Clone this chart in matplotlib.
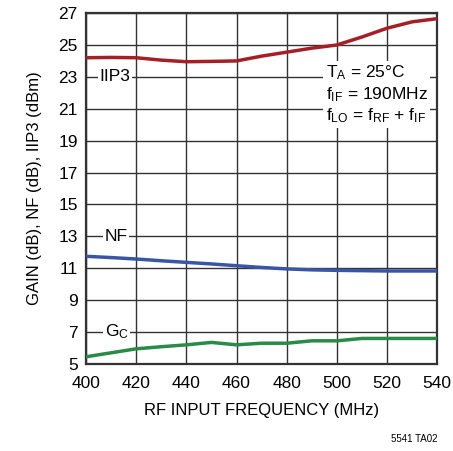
import matplotlib
matplotlib.use("Agg")
import matplotlib.pyplot as plt

# data
freq = [400, 410, 420, 430, 440, 450, 460, 470, 480, 490, 500, 510, 520, 530, 540]
iip3 = [24.2, 24.22, 24.2, 24.05, 23.95, 23.97, 24.0, 24.3, 24.55, 24.8, 25.0, 25.5, 26.05, 26.45, 26.65]
nf = [11.75, 11.67, 11.58, 11.47, 11.37, 11.27, 11.16, 11.05, 10.96, 10.9, 10.87, 10.85, 10.83, 10.83, 10.83]
gc = [5.45, 5.7, 5.95, 6.08, 6.2, 6.35, 6.2, 6.3, 6.3, 6.45, 6.45, 6.6, 6.6, 6.6, 6.6]
xticks = [400, 420, 440, 460, 480, 500, 520, 540]
yticks = [5, 7, 9, 11, 13, 15, 17, 19, 21, 23, 25, 27]

fam = "Liberation Sans"
plt.rcParams['font.family'] = [fam, 'DejaVu Sans']
plt.rcParams['mathtext.fontset'] = 'custom'
plt.rcParams['mathtext.rm'] = fam
plt.rcParams['mathtext.it'] = fam

fig = plt.figure(figsize=(4.53, 4.51), dpi=100)
ax = fig.add_axes([0.19, 0.193, 0.775, 0.778])

ax.plot(freq, iip3, color="#a51f26", lw=2.5, zorder=3)
ax.plot(freq, nf, color="#3a55a6", lw=2.5, zorder=3)
ax.plot(freq, gc, color="#2a8a48", lw=2.5, zorder=3)

ax.set_xlim(400, 540)
ax.set_ylim(5, 27)
ax.set_xticks(xticks)
ax.set_yticks(yticks)
ax.grid(True, color="#333333", lw=1.0)
ax.tick_params(length=0, labelsize=12.5)
ax.tick_params(axis="x", pad=9)
ax.tick_params(axis="y", pad=6)
for s in ax.spines.values():
    s.set_linewidth(1.6)
    s.set_color("#333333")

box = dict(facecolor="white", edgecolor="none", pad=1)
ax.text(405.5, 23, "IIP3", fontsize=12.5, va="center", ha="left", bbox=box, zorder=4)
ax.text(407.5, 13, "NF", fontsize=12.5, va="center", ha="left", bbox=box, zorder=4)
ax.text(407.5, 7, r"G$_\mathregular{C}$", fontsize=12.5, va="center", ha="left", bbox=box, zorder=4)
ax.text(495.5, 21.9,
        "T$_\\mathregular{A}$ = 25°C\nf$_\\mathregular{IF}$ = 190MHz\nf$_\\mathregular{LO}$ = f$_\\mathregular{RF}$ + f$_\\mathregular{IF}$",
        fontsize=12.5, va="center", ha="left", linespacing=1.2,
        bbox=dict(facecolor="white", edgecolor="none", pad=2), zorder=4)

ax.set_xlabel("RF INPUT FREQUENCY (MHz)", fontsize=12, labelpad=8)
ax.set_ylabel("GAIN (dB), NF (dB), IIP3 (dBm)", fontsize=12, labelpad=12)
fig.text(0.965, 0.015, "5541 TA02", fontsize=7, ha="right", va="bottom")

fig.savefig("out.png", dpi=100)
